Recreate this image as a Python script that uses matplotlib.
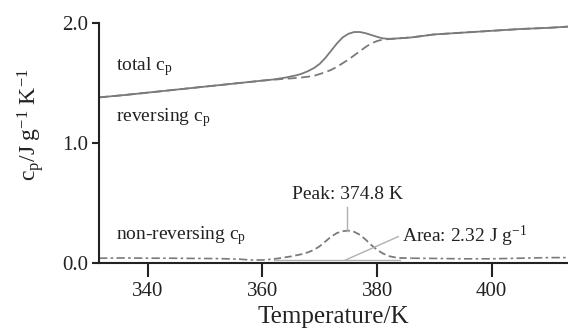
import matplotlib
matplotlib.use("Agg")
import matplotlib.pyplot as plt

plt.rcParams['font.family'] = ['Liberation Serif', 'DejaVu Serif']
plt.rcParams['mathtext.fontset'] = 'custom'
plt.rcParams['mathtext.rm'] = 'Liberation Serif'
plt.rcParams['mathtext.it'] = 'Liberation Serif:italic'

# ---- data ----
T_total = [331.5, 336, 340, 344, 348, 352, 356, 360, 362, 364, 366, 367, 368, 369, 370,
           371, 372, 373, 374, 375, 376, 377, 378, 379, 380, 381, 382, 383, 384, 386,
           390, 395, 400, 405, 410, 413.3]
cp_total = [1.38, 1.40, 1.42, 1.44, 1.46, 1.48, 1.50, 1.52, 1.53, 1.545, 1.565, 1.58, 1.60,
            1.625, 1.66, 1.71, 1.77, 1.83, 1.88, 1.91, 1.925, 1.925, 1.915, 1.90, 1.885,
            1.872, 1.868, 1.870, 1.873, 1.88, 1.905, 1.92, 1.935, 1.95, 1.96, 1.97]

T_rev = [331.5, 336, 340, 344, 348, 352, 356, 360, 362, 364, 366, 367, 368, 369, 370,
         371, 372, 373, 374, 375, 376, 377, 378, 379, 380, 381, 382, 383, 384, 386,
         390, 395, 400, 405, 410, 413.3]
cp_rev = [1.38, 1.40, 1.42, 1.44, 1.46, 1.48, 1.50, 1.52, 1.528, 1.535, 1.542, 1.547, 1.553,
          1.56, 1.575, 1.59, 1.61, 1.635, 1.665, 1.695, 1.73, 1.765, 1.80, 1.83, 1.85,
          1.862, 1.866, 1.869, 1.873, 1.88, 1.905, 1.92, 1.935, 1.95, 1.96, 1.97]

T_nonrev_flat_left = [331.5, 336, 340, 344, 348, 352, 356, 358, 360, 362]
cp_nonrev_flat_left = [0.04, 0.042, 0.04, 0.04, 0.038, 0.037, 0.032, 0.025, 0.025, 0.033]
T_nonrev_peak = [362, 363, 365, 367, 368, 369, 370, 371, 372, 373, 374, 375, 376, 377,
                 378, 379, 380, 381, 382, 383, 384, 386]
cp_nonrev_peak = [0.033, 0.04, 0.055, 0.075, 0.09, 0.11, 0.14, 0.18, 0.22, 0.25, 0.265,
                  0.27, 0.26, 0.235, 0.195, 0.15, 0.11, 0.08, 0.058, 0.048, 0.042, 0.04]
T_nonrev_flat_right = [386, 390, 395, 400, 405, 410, 413.3]
cp_nonrev_flat_right = [0.04, 0.038, 0.035, 0.035, 0.04, 0.045, 0.045]

peak_T = 374.8
peak_cp = 0.27
area_text = r'Area: 2.32 J g$^{-1}$'
peak_text = 'Peak: 374.8 K'
baseline_T = [362, 384]
baseline_cp = [0.025, 0.025]

xticks = [340, 360, 380, 400]
yticks = [0.0, 1.0, 2.0]

# ---- figure ----
fig = plt.figure(figsize=(5.68, 3.33), dpi=100)
ax = fig.add_axes([0.1743, 0.2102, 0.8257, 0.7207])

curve_col = '#7a7a7a'
ax.plot(T_total, cp_total, color=curve_col, lw=1.3, ls='-')
ax.plot(T_rev, cp_rev, color=curve_col, lw=1.3, ls=(0, (5, 2.5)))
ax.plot(T_nonrev_flat_left, cp_nonrev_flat_left, color=curve_col, lw=1.2,
        ls=(0, (5, 2, 1.5, 2)))
ax.plot(T_nonrev_peak, cp_nonrev_peak, color=curve_col, lw=1.3, ls=(0, (4, 2)))
ax.plot(T_nonrev_flat_right, cp_nonrev_flat_right, color=curve_col, lw=1.2,
        ls=(0, (5, 2, 1.5, 2)))

ann_col = '#b0b0b0'
ax.plot(baseline_T, baseline_cp, color=ann_col, lw=1.0)
ax.plot([peak_T, peak_T], [peak_cp, 0.47], color=ann_col, lw=1.0)
ax.plot([374.5, 383.7], [0.025, 0.22], color=ann_col, lw=1.0)

txt_col = '#222222'
ax.text(peak_T, 0.57, peak_text, ha='center', va='center', fontsize=14, color=txt_col)
ax.text(384.3, 0.225, area_text, ha='left', va='center', fontsize=14, color=txt_col)
ax.text(334.5, 1.64, r'total c$_\mathregular{p}$', ha='left', va='center', fontsize=14,
        color=txt_col)
ax.text(334.5, 1.21, r'reversing c$_\mathregular{p}$', ha='left', va='center', fontsize=14,
        color=txt_col)
ax.text(334.5, 0.23, r'non-reversing c$_\mathregular{p}$', ha='left', va='center',
        fontsize=14, color=txt_col)

ax.set_xlim(331.5, 413.3)
ax.set_ylim(0.0, 2.0)
ax.set_xticks(xticks)
ax.set_yticks(yticks)
ax.set_yticklabels([f'{v:.1f}' for v in yticks])
ax.tick_params(axis='x', direction='out', length=10, width=1.5, labelsize=15,
               colors=txt_col, pad=4)
ax.tick_params(axis='y', direction='out', length=5, width=1.5, labelsize=15,
               colors=txt_col, pad=3)
for s in ['top', 'right']:
    ax.spines[s].set_visible(False)
for s in ['left', 'bottom']:
    ax.spines[s].set_linewidth(1.5)
    ax.spines[s].set_color(txt_col)

ax.set_xlabel('Temperature/K', fontsize=18, color=txt_col, labelpad=3)
ax.set_ylabel(r'$\mathregular{c_p/J\ g^{-1}\ K^{-1}}$', fontsize=17, color=txt_col)
ax.yaxis.set_label_coords(-0.112, 0.575)

fig.savefig('out.png', dpi=100)
